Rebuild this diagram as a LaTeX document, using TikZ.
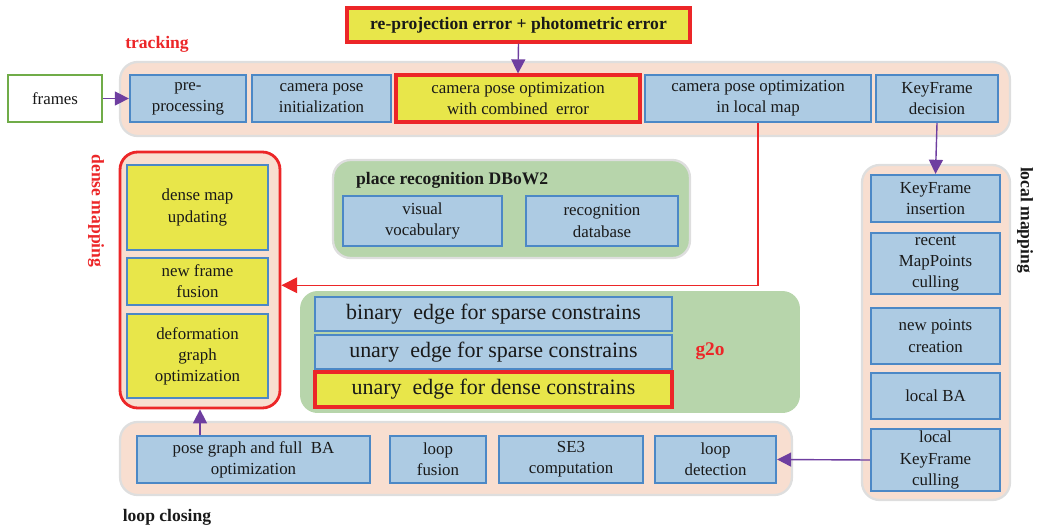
\documentclass[tikz,border=0pt]{standalone}
\usepackage{fontspec}
\setmainfont{Liberation Serif}
\usetikzlibrary{arrows.meta}
\definecolor{cPeach}{RGB}{248,222,208}
\definecolor{cPeachE}{RGB}{222,222,222}
\definecolor{cGreen}{RGB}{183,213,171}
\definecolor{cBlue}{RGB}{173,203,227}
\definecolor{cBlueE}{RGB}{76,136,198}
\definecolor{cYel}{RGB}{232,230,74}
\definecolor{cRed}{RGB}{236,38,40}
\definecolor{cPurp}{RGB}{110,62,160}
\definecolor{cFrame}{RGB}{112,172,72}
\definecolor{cText}{RGB}{25,25,25}

\begin{document}
\begin{tikzpicture}[
  x=0.02cm,y=-0.02cm, font=\fontsize{9.6}{12}\selectfont, text=cText,
  grp/.style    ={rounded corners=10pt, line width=1.3pt, draw=cPeachE, fill=cPeach, inner sep=0pt},
  grn/.style    ={grp, fill=cGreen},
  blk/.style    ={draw=cBlueE, fill=cBlue, line width=1.3pt, align=center, inner sep=1pt},
  hot/.style    ={blk, draw=cRed, fill=cYel, line width=1.8pt},
  dyel/.style   ={blk, fill=cYel},
  big/.style    ={font=\fontsize{12.5}{14}\selectfont},
  ttl/.style    ={font=\fontsize{10}{12}\selectfont\bfseries},
  flow/.style   ={-{Triangle[length=8pt,width=8pt]}, line width=0.8pt, draw=cPurp},
  back/.style   ={-{Triangle[length=9pt,width=9pt]}, line width=0.7pt, draw=cRed},
]
\useasboundingbox (0,0) rectangle (1040,530);

% ----- containers -------------------------------------------------------
\node[grp,minimum width=17.8cm,minimum height=1.48cm] (track) at (565,99) {};
\node[grp,draw=cRed,line width=1.6pt,minimum width=3.2cm,minimum height=5.12cm] (dense) at (200,280) {};
\node[grn,minimum width=7.14cm,minimum height=1.96cm] (place) at (511.5,209) {};
\node[grn,draw=none,minimum width=10cm,minimum height=2.44cm] (gtwo) at (550,352) {};
\node[grp,minimum width=2.96cm,minimum height=6.7cm] (localmapping) at (936,332.5) {};
\node[grp,minimum width=13.44cm,minimum height=1.46cm] (loopclosing) at (456,458.5) {};

% ----- group labels -----------------------------------------------------
\node[ttl,text=cRed] (trackT) at (157,44) {tracking};
\node[ttl,text=cRed,rotate=-90] (denseT) at (96,211) {dense mapping};
\node[ttl,anchor=west] (placeT) at (350,180) {place recognition DBoW2};
\node[ttl,text=cRed,font=\fontsize{11}{12}\selectfont\bfseries] (gtwoT) at (710,351) {g2o};
\node[ttl,rotate=-90] (localT) at (1025,220) {local mapping};
\node[ttl] (loopT) at (167,517) {loop closing};

% ----- tracking ---------------------------------------------------------
\node[ttl,draw=cRed,fill=cYel,line width=1.8pt,minimum width=6.86cm,minimum height=0.68cm] (err)
      at (518.5,25) {re-projection error + photometric error};
\node[draw=cFrame,fill=white,line width=1.3pt,minimum width=1.88cm,minimum height=0.94cm] (frames)
      at (55,98.5) {frames};
\node[blk,minimum width=2.32cm,minimum height=0.94cm] (prep) at (188,98.5) {pre-\\processing};
\node[blk,minimum width=2.78cm,minimum height=0.94cm] (init) at (321.5,98.5) {camera pose\\initialization};
\node[hot,minimum width=4.88cm,minimum height=0.94cm] (optc) at (518,98.5)
      {camera pose optimization\\with combined\ \ error};
\node[blk,minimum width=4.52cm,minimum height=0.94cm] (optl) at (758,98.5)
      {camera pose optimization\\in local map};
\node[blk,minimum width=2.44cm,minimum height=0.94cm] (kfd) at (937,98.5) {KeyFrame\\decision};

% ----- dense mapping ----------------------------------------------------
\node[dyel,minimum width=2.82cm,minimum height=1.70cm] (dmu) at (197.5,207.5) {dense map\\updating};
\node[dyel,minimum width=2.82cm,minimum height=0.94cm] (nff) at (197.5,281.5) {new frame\\fusion};
\node[dyel,minimum width=2.82cm,minimum height=1.68cm] (dgo) at (197.5,356) {deformation\\graph\\optimization};

% ----- place recognition ------------------------------------------------
\node[blk,minimum width=3.18cm,minimum height=1.0cm] (voc) at (422.5,221) {visual\\vocabulary};
\node[blk,minimum width=3.04cm,minimum height=1.0cm] (rdb) at (602,221) {recognition\\database};

% ----- g2o --------------------------------------------------------------
\node[blk,big,minimum width=7.14cm,minimum height=0.68cm] (bes) at (493.5,314) {binary\ \ edge for sparse constrains};
\node[blk,big,minimum width=7.14cm,minimum height=0.68cm] (ues) at (493.5,352) {unary\ \ edge for sparse constrains};
\node[hot,big,minimum width=7.14cm,minimum height=0.70cm] (ued) at (493.5,389.5) {unary\ \ edge for dense constrains};

% ----- local mapping ----------------------------------------------------
\node[blk,minimum width=2.58cm,minimum height=0.94cm] (kfi) at (935.5,198.5) {KeyFrame\\insertion};
\node[blk,minimum width=2.58cm,minimum height=1.22cm] (rmc) at (935.5,263.5) {recent\\MapPoints\\culling};
\node[blk,minimum width=2.58cm,minimum height=1.12cm] (npc) at (935.5,336) {new points\\creation};
\node[blk,minimum width=2.58cm,minimum height=0.92cm] (lba) at (935.5,396) {local BA};
\node[blk,minimum width=2.58cm,minimum height=1.24cm] (lkc) at (935.5,460) {local\\KeyFrame\\culling};

% ----- loop closing -----------------------------------------------------
\node[blk,minimum width=4.66cm,minimum height=0.94cm] (pgo) at (253.5,459.5) {pose graph and full\ \ BA\\optimization};
\node[blk,minimum width=1.92cm,minimum height=0.94cm] (lfu) at (438,459.5) {loop\\fusion};
\node[blk,minimum width=2.88cm,minimum height=0.94cm] (se3) at (571,459.5) {SE3\\computation};
\node[blk,minimum width=2.42cm,minimum height=0.94cm] (ldt) at (715.5,459.5) {loop\\detection};

% ----- connectors -------------------------------------------------------
\draw[flow] (frames.east) -- (prep.west);
\draw[flow] (err.south) -- (optc.north);
\draw[flow] (kfd.south) -- (kfi.north);
\draw[flow] (lkc.west) -- (ldt.east);
\draw[flow] (pgo.north -| dense.south) -- (dense.south);
\draw[back] (optl.south) |- ([yshift=-3pt]dense.east);

\end{tikzpicture}
\end{document}
